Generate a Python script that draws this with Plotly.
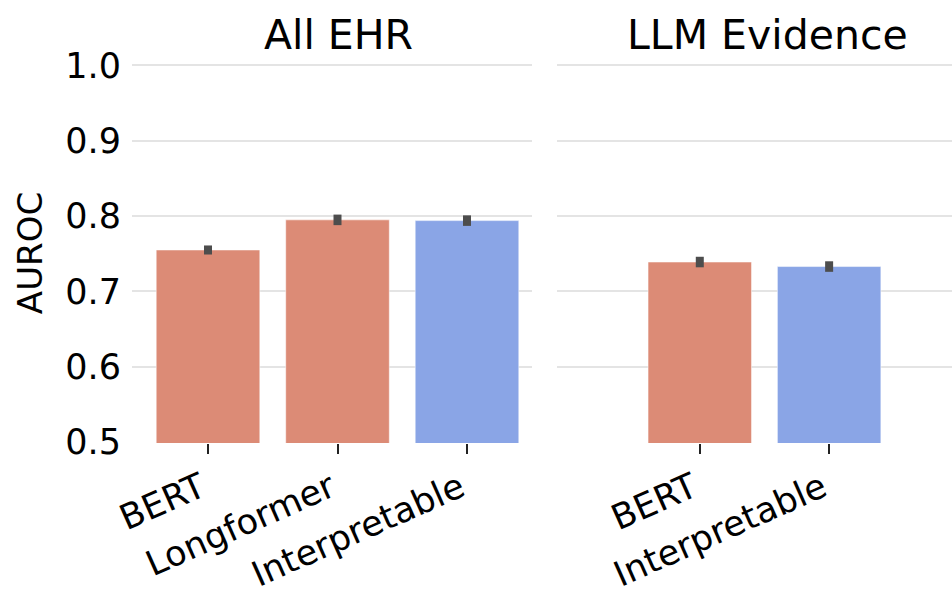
import plotly.graph_objects as go

# ---- data ----
ehr_models = ["BERT", "Longformer", "Interpretable"]
ehr_auroc = [0.755, 0.795, 0.794]
ehr_err = [0.006, 0.007, 0.007]

llm_models = ["BERT", "Interpretable"]
llm_auroc = [0.739, 0.733]
llm_err = [0.007, 0.007]

y_ticks = [0.5, 0.6, 0.7, 0.8, 0.9, 1.0]

# ---- style ----
ORANGE = "#DC8B76"
BLUE = "#8AA5E6"
color_of = {"BERT": ORANGE, "Longformer": ORANGE, "Interpretable": BLUE}
FONT = "DejaVu Sans"
W, H = 952, 595
T, B = 63, 152
PH = H - T - B  # plot area height in px

fig = go.Figure()

def add_bars(models, vals, errs, xa, ya):
    fig.add_trace(go.Bar(
        x=models, y=vals, width=0.8,
        marker=dict(color=[color_of[m] for m in models],
                    line=dict(color="rgba(255,255,255,0.5)", width=1)),
        error_y=dict(type="data", array=errs, visible=True,
                     color="#4d4d4d", thickness=8, width=0),
        xaxis=xa, yaxis=ya, showlegend=False,
    ))

add_bars(ehr_models, ehr_auroc, ehr_err, "x", "y")
add_bars(llm_models, llm_auroc, llm_err, "x2", "y2")

grid = "#e4e4e4"
common_x = dict(type="category", showgrid=False, zeroline=False, showline=False,
                automargin=False,
                ticks="outside", ticklen=10, tickwidth=2, tickcolor="#222",
                ticklabelshift=-7,
                tickangle=-24, tickfont=dict(family=FONT, size=35, color="black"))
common_y = dict(range=[0.4987, 1.0033], tickvals=y_ticks, tickformat=".1f",
                showgrid=True, gridcolor=grid, gridwidth=1.5, automargin=False,
                zeroline=False, showline=False)

def title_y(px_from_top):
    return 1 + (T - px_from_top) / PH

fig.update_layout(
    width=W, height=H,
    margin=dict(l=0, r=0, t=T, b=B, autoexpand=False),
    paper_bgcolor="white", plot_bgcolor="white",
    font=dict(family=FONT, color="black"),
    bargap=0.2,
    xaxis=dict(domain=[132 / W, 532 / W], range=[-0.587, 2.502], anchor="y", **common_x),
    xaxis2=dict(domain=[557 / W, 1.0], range=[-1.104, 1.95], anchor="y2", **common_x),
    yaxis=dict(anchor="x", **common_y,
               ticks="outside", ticklen=3, tickcolor="rgba(0,0,0,0)",
               tickfont=dict(family=FONT, size=35, color="black"),
               title=dict(text="AUROC", font=dict(family=FONT, size=34, color="black"),
                          standoff=12)),
    yaxis2=dict(anchor="x2", matches="y", showticklabels=False, **common_y),
    annotations=[
        dict(text="All EHR", x=338 / W, y=title_y(35), xref="paper", yref="paper",
             xanchor="center", yanchor="middle", showarrow=False,
             font=dict(family=FONT, size=41, color="black")),
        dict(text="LLM Evidence", x=767 / W, y=title_y(35), xref="paper", yref="paper",
             xanchor="center", yanchor="middle", showarrow=False,
             font=dict(family=FONT, size=41, color="black")),
    ],
)

fig.write_html("out.html")
